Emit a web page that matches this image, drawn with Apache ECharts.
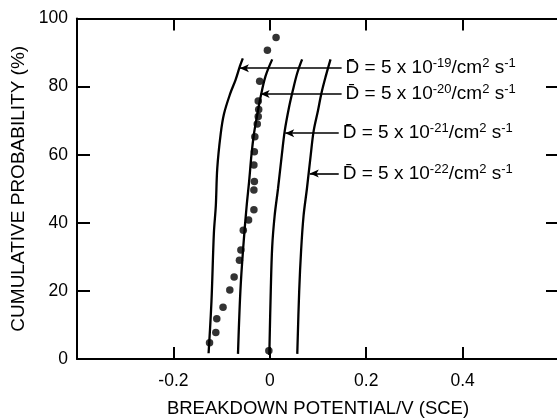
<!DOCTYPE html>
<html>
<head>
<meta charset="utf-8">
<script src="https://cdn.jsdelivr.net/npm/echarts@6/dist/echarts.min.js"></script>
<style>
html,body{margin:0;padding:0;background:#fff;}
#chart{width:557px;height:419px;}
</style>
</head>
<body>
<div id="chart"></div>
<script>
// ---- data (x: breakdown potential / V (SCE), y: cumulative probability %) ----
const curveD19 = [[-0.127,1.7],[-0.121,17],[-0.116,37],[-0.112,45],[-0.109,56],[-0.102,66],[-0.095,72],[-0.082,78],[-0.071,82],[-0.062,86],[-0.056,88.3]];
const curveD20 = [[-0.066,1.5],[-0.061,20],[-0.055,33],[-0.048,45],[-0.043,52],[-0.038,60],[-0.033,66],[-0.027,71],[-0.019,77],[-0.009,83],[0.005,88]];
const curveD21 = [[-0.001,1.2],[0.002,20],[0.005,33],[0.010,42],[0.017,50],[0.025,60],[0.031,67],[0.040,74],[0.048,79],[0.057,84],[0.067,88]];
const curveD22 = [[0.057,1.5],[0.061,20],[0.065,32],[0.070,42],[0.077,50],[0.085,60],[0.091,67],[0.100,73],[0.107,78],[0.116,83],[0.126,88]];
const measured = [[-0.125,4.8],[-0.112,7.8],[-0.110,11.8],[-0.097,15.2],[-0.083,20.3],[-0.074,24.1],[-0.063,29.0],[-0.060,32.0],[-0.055,37.8],[-0.044,40.8],[-0.033,43.8],[-0.033,49.6],[-0.032,52.1],[-0.033,57.0],[-0.032,60.9],[-0.031,65.3],[-0.026,69.0],[-0.024,71.2],[-0.023,73.3],[-0.024,75.8],[-0.021,81.6],[-0.005,90.7],[0.013,94.4],[-0.002,2.4]];
// annotation arrows: y level, start x (arrow tip), end x, exponent
const annY = [85.4, 77.8, 66.3, 54.5];
const annX0 = [-0.062, -0.019, 0.032, 0.083];
const annX1 = [0.149, 0.149, 0.143, 0.143];
const annExp = ['-19', '-20', '-21', '-22'];
const xTicks = {min: -0.4, max: 0.6, interval: 0.2};
const yTicks = {min: 0, max: 100, interval: 20};
const xName = 'BREAKDOWN POTENTIAL/V (SCE)';
const yName = 'CUMULATIVE PROBABILITY (%)';

const FONT = "'Liberation Sans', Arial, sans-serif";
const chart = echarts.init(document.getElementById('chart'), null, {renderer: 'canvas'});

function curve(data) {
  return {
    type: 'line', data: data, smooth: 0.35, showSymbol: false, symbol: 'none',
    lineStyle: {color: '#000', width: 2.3}, silent: true, z: 3
  };
}

const markData = annY.map((y, i) => [
  {coord: [annX0[i], y], name: annExp[i]},
  {coord: [annX1[i], y]}
]);

const axisCommon = {
  axisLine: {show: true, onZero: false, lineStyle: {color: '#000', width: 2}},
  axisTick: {show: true, inside: true, lineStyle: {color: '#000', width: 2}},
  splitLine: {show: false}
};

chart.setOption({
  animation: false,
  backgroundColor: '#fff',
  grid: {left: 77, right: -2, top: 18.5, bottom: 60, containLabel: false, outerBoundsMode: 'none'},
  xAxis: [
    Object.assign({}, axisCommon, {
      type: 'value', position: 'bottom', min: xTicks.min, max: xTicks.max, interval: xTicks.interval,
      axisTick: {show: true, inside: true, length: 12, lineStyle: {color: '#000', width: 2}},
      axisLabel: {show: true, color: '#000', fontSize: 17.5, fontFamily: FONT, margin: 13,
        showMinLabel: false, showMaxLabel: false,
        formatter: v => (Math.abs(v) < 1e-9 ? '0' : v.toFixed(1))},
      name: xName, nameLocation: 'middle', nameGap: 40,
      nameTextStyle: {color: '#000', fontSize: 18.5, fontFamily: FONT}
    }),
    Object.assign({}, axisCommon, {
      type: 'value', position: 'top', min: xTicks.min, max: xTicks.max, interval: xTicks.interval,
      axisTick: {show: true, inside: true, length: 12, lineStyle: {color: '#000', width: 2}},
      axisLabel: {show: false}
    })
  ],
  yAxis: [
    Object.assign({}, axisCommon, {
      type: 'value', position: 'left', min: yTicks.min, max: yTicks.max, interval: yTicks.interval,
      axisTick: {show: true, inside: true, length: 13, lineStyle: {color: '#000', width: 2}},
      axisLabel: {show: true, color: '#000', fontSize: 17.5, fontFamily: FONT, margin: 9},
      name: yName, nameLocation: 'middle', nameGap: 49, nameRotate: 90,
      nameTextStyle: {color: '#000', fontSize: 19, fontFamily: FONT}
    }),
    Object.assign({}, axisCommon, {
      type: 'value', position: 'right', min: yTicks.min, max: yTicks.max, interval: yTicks.interval,
      axisTick: {show: true, inside: true, length: 13, lineStyle: {color: '#000', width: 2}},
      axisLabel: {show: false}
    })
  ],
  series: [
    curve(curveD19), curve(curveD20), curve(curveD21), curve(curveD22),
    {
      type: 'scatter', data: measured, symbol: 'circle', symbolSize: 7.5,
      itemStyle: {color: '#000'}, silent: true, z: 4,
      markLine: {
        silent: true, animation: false,
        symbol: ['arrow', 'none'], symbolSize: [6, 9],
        lineStyle: {type: 'solid', color: '#000', width: 1.6},
        label: {
          show: true, position: 'end', distance: 4,
          formatter: p => '{a|D\u0304 = 5 x 10}{s|' + p.name + '}{a|/cm}{s|2}{a| s}{s|-1}',
          rich: {
            a: {fontSize: 19, fontFamily: FONT, color: '#000', lineHeight: 22},
            s: {fontSize: 13, fontFamily: FONT, color: '#000', lineHeight: 13, verticalAlign: 'top'}
          }
        },
        emphasis: {disabled: true},
        data: markData
      }
    }
  ]
});
</script>
</body>
</html>
